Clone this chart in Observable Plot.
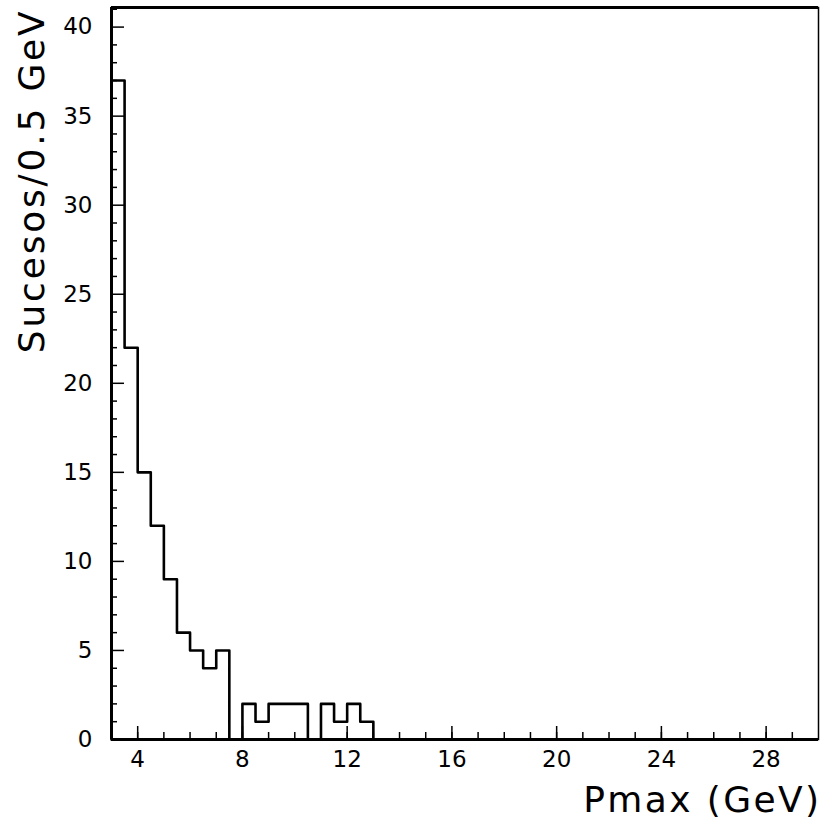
<!DOCTYPE html>
<html>
<head>
<meta charset="utf-8">
<script src="https://cdn.jsdelivr.net/npm/d3@7"></script>
<script src="https://cdn.jsdelivr.net/npm/@observablehq/plot@0.6"></script>
<style>
  html, body { margin: 0; padding: 0; background: white; }
</style>
</head>
<body>
<div id="chart"></div>
<script>
// Histogram: Pmax, bins of 0.5 GeV starting at 3 GeV
const binStart = 3;
const binWidth = 0.5;
const counts = [37, 22, 15, 12, 9, 6, 5, 4, 5, 0, 2, 1, 2, 2, 2, 0, 2, 1, 2, 1];

const xDomain = [3, 30];
const yDomain = [0, 41.1];
const xMajorTicks = [4, 8, 12, 16, 20, 24, 28];
const xMinorTicks = [4, 5, 6, 7, 8, 9, 10, 11, 12, 13, 14, 15, 16, 17, 18, 19, 20, 21, 22, 23, 24, 25, 26, 27, 28, 29];
const yMajorTicks = [0, 5, 10, 15, 20, 25, 30, 35, 40];
const yMinorTicks = [1, 2, 3, 4, 6, 7, 8, 9, 11, 12, 13, 14, 16, 17, 18, 19, 21, 22, 23, 24, 26, 27, 28, 29, 31, 32, 33, 34, 36, 37, 38, 39, 41];

const xTitle = "Pmax (GeV)";
const yTitle = "Sucesos/0.5 GeV";

// Step outline points (bin lower edges + closing edge)
const steps = [{x: binStart, y: 0}]
  .concat(counts.map((c, i) => ({x: binStart + i * binWidth, y: c})))
  .concat([{x: binStart + counts.length * binWidth, y: 0}]);

const font = "DejaVu Sans";

const chart = Plot.plot({
  width: 820,
  height: 823,
  marginLeft: 111,
  marginRight: 2,
  marginTop: 7,
  marginBottom: 84,
  style: {fontFamily: font, fontSize: "22px", background: "white", color: "black", overflow: "visible"},
  x: {domain: xDomain},
  y: {domain: yDomain},
  marks: [
    // minor / major ticks pointing inward
    Plot.axisX(xMinorTicks, {anchor: "bottom", tickSize: -7, text: null, strokeWidth: 1.5, label: null}),
    Plot.axisX(xMajorTicks, {anchor: "bottom", tickSize: -13, text: null, strokeWidth: 1.5, label: null}),
    Plot.axisX(xMajorTicks, {anchor: "bottom", tickSize: 0, tickPadding: 11, label: null, fontSize: 23}),
    Plot.axisY(yMinorTicks, {anchor: "left", tickSize: -6, text: null, strokeWidth: 1.5, label: null}),
    Plot.axisY(yMajorTicks, {anchor: "left", tickSize: -13, text: null, strokeWidth: 1.5, label: null}),
    Plot.axisY(yMajorTicks, {anchor: "left", tickSize: 0, tickPadding: 19, label: null, fontSize: 23}),
    // histogram outline
    Plot.line(steps, {x: "x", y: "y", curve: "step-after", stroke: "black", strokeWidth: 2.6}),
    // frame
    Plot.frame({stroke: "black", strokeWidth: 1.5}),
    Plot.ruleY([yDomain[0]], {stroke: "black", strokeWidth: 3}),
    Plot.ruleY([yDomain[1]], {stroke: "black", strokeWidth: 3}),
    Plot.ruleX([xDomain[0]], {stroke: "black", strokeWidth: 3}),
    // titles
    Plot.text([xTitle], {frameAnchor: "bottom-right", text: d => d, textAnchor: "end", lineAnchor: "bottom", dy: 72, dx: 3, fontSize: 36}),
    Plot.text([yTitle], {frameAnchor: "top-left", text: d => d, textAnchor: "end", rotate: -90, lineAnchor: "middle", dx: -79, dy: 1, fontSize: 36})
  ]
});

// widen the title lettering like the original plot's stroke font
d3.select(chart).selectAll("text").each(function() {
  const t = this.textContent;
  if (t === xTitle) d3.select(this).attr("letter-spacing", 2.4);
  if (t === yTitle) d3.select(this).attr("letter-spacing", 2.8);
});

document.getElementById("chart").appendChild(chart);
</script>
</body>
</html>
